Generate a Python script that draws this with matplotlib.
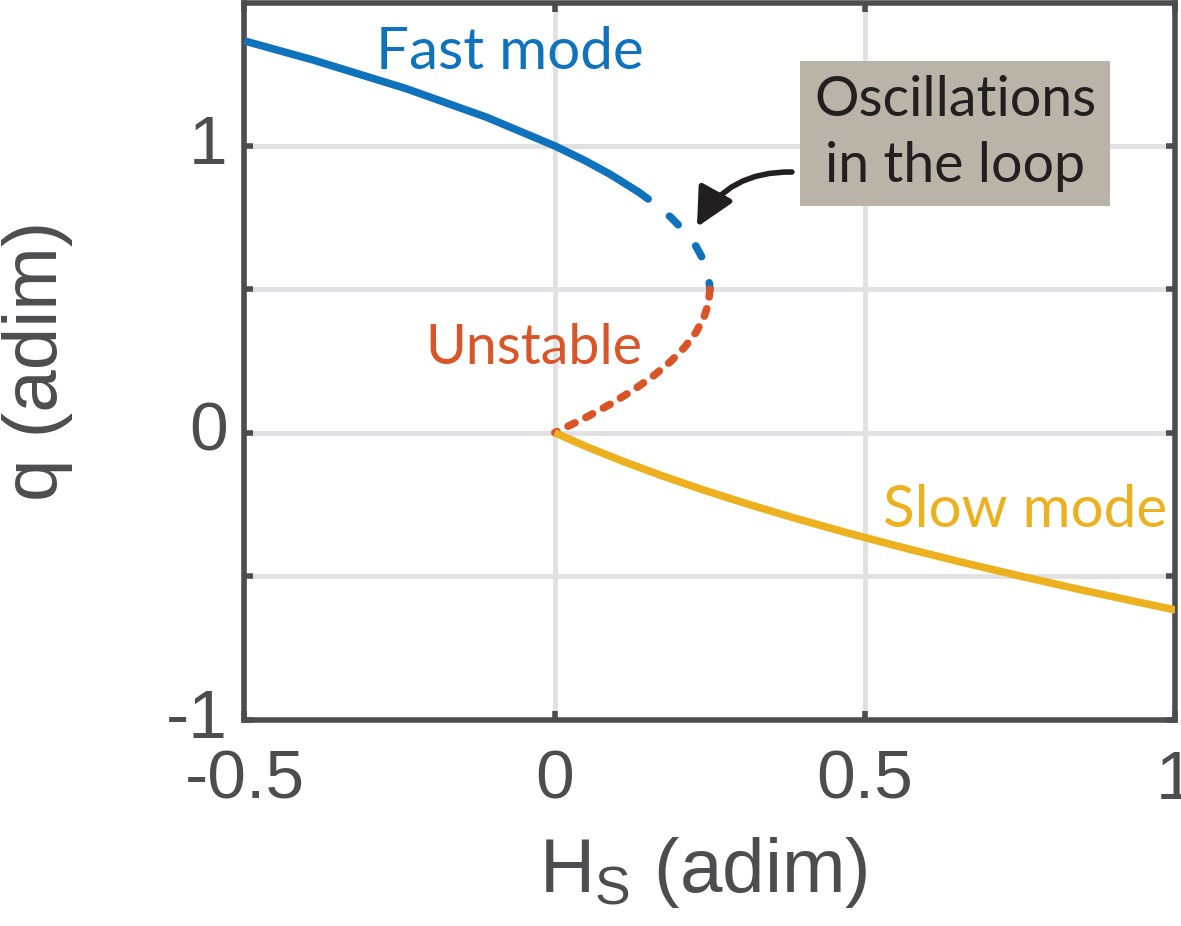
import matplotlib
matplotlib.use("Agg")
import matplotlib.pyplot as plt
from matplotlib.transforms import ScaledTranslation

# --- datos (H_S, q) ---
fast_H = [-0.500, -0.390, -0.240, -0.110, 0.000, 0.0475, 0.090, 0.1344]
fast_q = [1.366, 1.300, 1.200, 1.100, 1.000, 0.950, 0.900, 0.840]

osc_H = [0.1344, 0.160, 0.1875, 0.210, 0.2275, 0.240, 0.2475, 0.250]
osc_q = [0.840, 0.800, 0.750, 0.700, 0.650, 0.600, 0.550, 0.500]

unst_H = [0.250, 0.2475, 0.240, 0.2275, 0.210, 0.1875, 0.160, 0.1275, 0.090, 0.0475, 0.000]
unst_q = [0.500, 0.450, 0.400, 0.350, 0.300, 0.250, 0.200, 0.150, 0.100, 0.050, 0.000]

slow_H = [0.000, 0.0525, 0.110, 0.1725, 0.240, 0.3125, 0.390, 0.4725, 0.560,
          0.6525, 0.750, 0.8525, 0.960, 1.000]
slow_q = [0.000, -0.050, -0.100, -0.150, -0.200, -0.250, -0.300, -0.350, -0.400,
          -0.450, -0.500, -0.550, -0.600, -0.618]

x_ticks = [-0.5, 0, 0.5, 1]
x_labels = ["-0.5", "0", "0.5", "1"]
y_ticks = [-1, -0.5, 0, 0.5, 1]
y_labels = ["-1", "", "0", "", "1"]

azul = "#0F72BD"
rojo = "#D95427"
amarillo = "#EDB120"
gris = "#4D4D4F"

plt.rcParams["mathtext.fontset"] = "custom"
plt.rcParams["mathtext.rm"] = "Liberation Sans"

fig = plt.figure(figsize=(11.81, 9.26), dpi=100)
ax = fig.add_axes([0.2070, 0.2230, 0.9953 - 0.2070, 0.9973 - 0.2230])

ax.plot(fast_H, fast_q, color=azul, lw=5.5, solid_capstyle="butt", zorder=3)
ax.plot(osc_H, osc_q, color=azul, lw=5.5, dashes=(1.6, 3.6),
        dash_capstyle="round", zorder=3)
ax.plot(unst_H, unst_q, color=rojo, lw=5.5, dashes=(1.0, 1.6),
        dash_capstyle="round", zorder=3)
ax.plot(slow_H, slow_q, color=amarillo, lw=5.5, solid_capstyle="butt", zorder=3)

ax.set_xlim(-0.5, 1)
ax.set_ylim(-1, 1.5)
ax.set_xticks(x_ticks)
ax.set_xticklabels(x_labels)
ax.set_yticks(y_ticks)
ax.set_yticklabels(y_labels)

ax.grid(True, color="#E1E1E3", lw=3.5, zorder=0)
ax.set_axisbelow(True)
for s in ax.spines.values():
    s.set_color(gris)
    s.set_linewidth(4)
ax.tick_params(direction="in", length=6.5, width=4, color=gris,
               top=True, right=True, labelsize=50, labelcolor=gris)
ax.tick_params(axis="x", pad=21)
ax.tick_params(axis="y", pad=12)
subir = ScaledTranslation(0, 5 / 72, fig.dpi_scale_trans)
for lab in ax.get_xticklabels():
    lab.set_family("Liberation Sans")
for lab in ax.get_yticklabels():
    lab.set_family("Liberation Sans")
    lab.set_transform(lab.get_transform() + subir)

ax.set_xlabel(r"H$_\mathregular{S}$ (adim)", fontsize=55, color=gris,
              family="Liberation Sans", labelpad=16)
ax.xaxis.label.set_x(0.4925)
ax.set_ylabel("q (adim)", fontsize=55, color=gris, family="Liberation Sans",
              labelpad=67)

fuente = "Lato"
ax.text(-0.072, 1.269, "Fast mode", color=azul, fontsize=42, family=fuente,
        ha="center", va="baseline")
ax.text(-0.034, 0.238, "Unstable", color=rojo, fontsize=40, family=fuente,
        ha="center", va="baseline")
ax.text(0.758, -0.329, "Slow mode", color=amarillo, fontsize=42, family=fuente,
        ha="center", va="baseline")

ax.text(0.645, 1.043, "Oscillations\nin the loop", color="#231F20", fontsize=40,
        family=fuente, ha="center", va="center", linespacing=1.38,
        bbox=dict(boxstyle="square,pad=0.25", fc="#BAB3A8", ec="none"), zorder=5)
ax.annotate("", xy=(0.229, 0.717), xytext=(0.382, 0.909),
            arrowprops=dict(arrowstyle="-|>", connectionstyle="arc3,rad=0.3",
                            lw=4, color="#231F20", mutation_scale=58,
                            shrinkA=0, shrinkB=0), zorder=5)

plt.savefig("out.png", dpi=100)
